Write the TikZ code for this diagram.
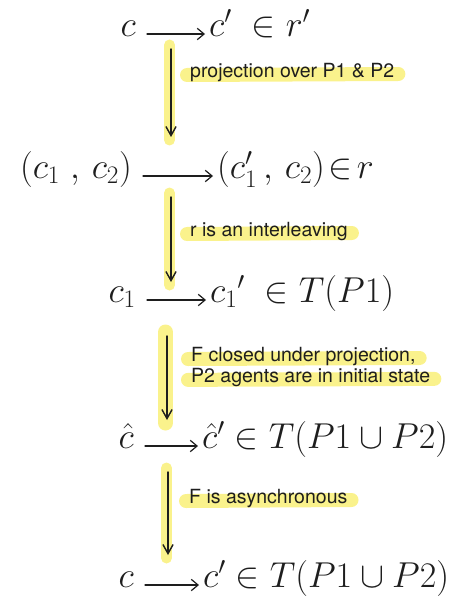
\RequirePackage{fix-cm}
\documentclass[tikz,border=0pt]{standalone}
\usepackage{fontspec}
\setsansfont{TeX Gyre Heros}
\usetikzlibrary{arrows.meta,backgrounds,positioning}
\definecolor{hlYellow}{HTML}{FAF28C}
\definecolor{hlInk}{HTML}{1E1E1E}
\tikzset{
  hw diagram/.style={line cap=round, line join=round, text=hlInk},
  hw term/.style={inner xsep=4pt, inner ysep=0pt, font=\fontsize{36}{40}\selectfont},
  hw from/.style={hw term, inner xsep=11pt},
  hw move/.style={-{Straight Barb[length=2.4mm,width=4mm]}, draw=hlInk, line width=1.2pt},
  hw proof/.style={-{Straight Barb[length=3.2mm,width=3.6mm]}, draw=hlInk, line width=1.4pt},
  hw note/.style={font=\sffamily\fontsize{19.5}{23}\selectfont, anchor=west, inner sep=1pt},
  hw mark/.style={draw=hlYellow, line width=14pt, line cap=round},
  hw bar/.style={draw=hlYellow, line width=11pt, line cap=round}
}
\begin{document}
\begin{tikzpicture}[hw diagram,x=1pt,y=-1pt]
\useasboundingbox (0,0) rectangle (449,604);
% the five rows
\node[hw from,anchor=mid east] (c0) at (147,34) {$c$};
\node[hw term,anchor=mid west] (c0n) at (205,34) {$c'\;\in r'$};
\node[hw from,anchor=mid east] (pair) at (143,176) {$(c_1\;,\,c_2)$};
\node[hw term,anchor=mid west] (pairn) at (213,176) {$(c'_1\,,\,c_2)\!\in\! r$};
\node[hw from,anchor=mid east] (c1) at (147,300) {$c_1$};
\node[hw term,anchor=mid west] (c1n) at (206,300) {$c_1{}'\;\in T(P1)$};
\node[hw from,anchor=mid east] (ch) at (145,446) {$\hat{c}$};
\node[hw term,anchor=mid west] (chn) at (198,446) {$\hat{c}'\in T(P1\cup P2)$};
\node[hw from,anchor=mid east] (c2) at (145,585) {$c$};
\node[hw term,anchor=mid west] (c2n) at (199,585) {$c'\in T(P1\cup P2)$};
\foreach \a/\b in {c0/c0n,pair/pairn,c1/c1n,ch/chn,c2/c2n}
  \draw[hw move] (\a.mid east) -- (\b.mid west);
% the reasons
\coordinate (s1) at (171,49);  \coordinate (e1) at (171,137);
\coordinate (s2) at (171,197); \coordinate (e2) at (171,282);
\coordinate (s3) at (167,336); \coordinate (e3) at (167,420);
\coordinate (s4) at (168,472); \coordinate (e4) at (168,555);
\node[hw note] (why1) at (189,73) {projection over P1 \& P2};
\node[hw note] (why2) at (189,232) {r is an interleaving};
\node[hw note] (why3) at (190,357) {F closed under projection,};
\node[hw note,below=0pt of why3.south west,anchor=north west] (why3b) {P2 agents are in initial state};
\node[hw note] (why4) at (188,499) {F is asynchronous};
\foreach \s/\e in {s1/e1,s2/e2,s3/e3,s4/e4}
  \draw[hw proof] (\s) -- (\e);
\begin{scope}[on background layer]
\foreach \s/\e/\w in {s1/e1/11pt,s2/e2/11pt,s3/e3/15pt,s4/e4/11pt}
  \draw[hw bar,line width=\w] ([xshift=-1.5pt,yshift=4pt]\s) -- ([xshift=-1.5pt,yshift=-3pt]\e);
\foreach \w in {why1,why2,why3,why3b,why4}
  \draw[hw mark] ([xshift=-2pt,yshift=-2pt]\w.west) -- ([xshift=3pt,yshift=-1pt]\w.east);
\end{scope}
\end{tikzpicture}
\end{document}
